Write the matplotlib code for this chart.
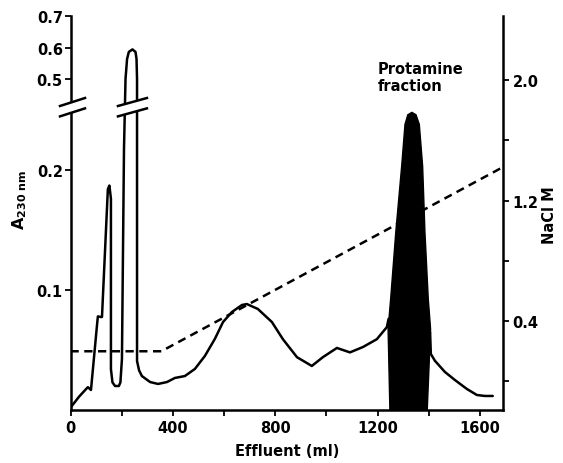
import numpy as np
import matplotlib
matplotlib.use("Agg")
import matplotlib.pyplot as plt
from matplotlib.patches import Polygon
from matplotlib.lines import Line2D
from matplotlib.transforms import IdentityTransform
from matplotlib.ticker import NullLocator, FixedLocator

# ---------------- data ----------------
# absorbance trace before the protamine peak
trace1_ml = [0, 2, 33, 61, 68, 80, 104, 107, 118, 123, 146, 152, 158, 158, 164, 174,
             189, 195, 201, 209, 215, 221, 228, 242, 254, 258, 260, 260, 260, 268,
             279, 311, 342, 377, 408, 447, 486, 525, 564, 596, 631, 670, 689, 732,
             787, 830, 885, 943, 986, 1041, 1092, 1143, 1197, 1236, 1243]
trace1_a = [0.0, 0.0025, 0.011, 0.0175, 0.019, 0.0167, 0.0717, 0.078, 0.0775, 0.0775,
            0.184, 0.187, 0.176, 0.034, 0.023, 0.02, 0.02, 0.023, 0.0425, 0.2175, 0.5,
            0.5635, 0.586, 0.594, 0.586, 0.5635, 0.5, 0.2175, 0.0408, 0.033, 0.0283,
            0.0233, 0.0217, 0.0233, 0.0267, 0.0283, 0.0342, 0.045, 0.0592, 0.0733,
            0.0817, 0.0875, 0.0883, 0.0842, 0.0733, 0.059, 0.044, 0.0367, 0.044,
            0.0517, 0.048, 0.0525, 0.059, 0.069, 0.076]
# absorbance trace after the protamine peak
trace2_ml = [1405, 1408, 1424, 1463, 1502, 1549, 1588, 1619, 1650]
trace2_a = [0.065, 0.0467, 0.041, 0.0317, 0.025, 0.0175, 0.0125, 0.0117, 0.0117]
# filled protamine fraction
peak_ml = [1248, 1241, 1251, 1271, 1294, 1307, 1318, 1334, 1350, 1363, 1376, 1385,
           1398, 1407, 1394]
peak_a = [0.0, 0.0675, 0.0925, 0.148, 0.203, 0.238, 0.246, 0.248, 0.246, 0.238,
          0.203, 0.148, 0.0925, 0.0675, 0.0]
# NaCl gradient
nacl_ml = [0, 355, 1690]
nacl_M = [0.2, 0.2, 1.423]

x_ticks = [0, 400, 800, 1200, 1600]
x_minor = [200, 600, 1000, 1400]
a_ticks = [0.1, 0.2, 0.5, 0.6, 0.7]
a_labels = ["0.1", "0.2", "0.5", "0.6", "0.7"]
n_ticks = [0.4, 1.2, 2.0]
n_labels = ["0.4", "1.2", "2.0"]
n_minor = [0.0, 0.8, 1.6]

# broken absorbance axis
BRK_LO, BRK_HI = 0.248, 0.427
A_KN = np.array([-1.0, BRK_LO, BRK_HI, 2.0])
U_KN = np.array([-1.0, BRK_LO, 0.25664, 0.66955])


def fwd(a):
    return np.interp(a, A_KN, U_KN)


def inv(u):
    return np.interp(u, U_KN, A_KN)


plt.rcParams["font.family"] = ["DejaVu Sans"]
FS = 10.5
LW = 1.8

fig = plt.figure(figsize=(5.63, 4.64), dpi=100)
W, H = 563, 464
ax = fig.add_axes([70.5 / W, 53 / H, (503 - 70.5) / W, (411 - 17) / H])
ax.set_yscale("function", functions=(fwd, inv))
ax.set_xlim(0, 1690)
ax.set_ylim(0, 0.7)

ax2 = ax.twinx()
ax2.set_ylim(-0.19, 2.426)

# traces
ax.plot(trace1_ml, trace1_a, color="black", lw=LW, solid_joinstyle="round",
        solid_capstyle="round", zorder=3)
ax.plot(trace2_ml, trace2_a, color="black", lw=LW, solid_joinstyle="round",
        solid_capstyle="round", zorder=3)
ax.fill(peak_ml, peak_a, color="black", lw=1, zorder=4)
ax2.plot(nacl_ml, nacl_M, color="black", lw=1.8, dashes=(3.3, 2.2), zorder=2)

# axes styling
for s in ["top", "right"]:
    ax.spines[s].set_visible(False)
for s in ["top", "left", "bottom"]:
    ax2.spines[s].set_visible(False)
for s in ["left", "bottom"]:
    ax.spines[s].set_linewidth(LW)
ax2.spines["right"].set_linewidth(LW)

ax.xaxis.set_major_locator(FixedLocator(x_ticks))
ax.xaxis.set_minor_locator(FixedLocator(x_minor))
ax.set_xticklabels([str(v) for v in x_ticks], fontsize=FS, fontweight="bold")
ax.yaxis.set_major_locator(FixedLocator(a_ticks))
ax.yaxis.set_minor_locator(NullLocator())
ax.set_yticklabels(a_labels, fontsize=FS, fontweight="bold")
ax2.yaxis.set_major_locator(FixedLocator(n_ticks))
ax2.yaxis.set_minor_locator(FixedLocator(n_minor))
ax2.set_yticklabels(n_labels, fontsize=FS, fontweight="bold")

ax.tick_params(axis="x", which="both", direction="out", length=4, width=1.3, pad=3)
ax.tick_params(axis="y", which="both", direction="out", length=4, width=1.3, pad=1.5)
ax2.tick_params(axis="y", which="both", direction="out", length=4, width=1.3, pad=3)

# labels
fig.text(287 / W, 1 - 452 / H, "Effluent (ml)", ha="center", va="center",
         fontsize=FS, fontweight="bold")
fig.text(20 / W, 1 - 200 / H, r"A$_{\mathbf{230\ nm}}$", ha="center", va="center",
         rotation=90, fontsize=FS + 1, fontweight="bold")
fig.text(549 / W, 1 - 215 / H, "NaCl M", ha="center", va="center", rotation=90,
         fontsize=FS, fontweight="bold")
ax.text(1201, 0.557, "Protamine\nfraction", ha="left", va="top", fontsize=FS,
        fontweight="bold", linespacing=1.2)

# break marks
fig.canvas.draw()
ident = IdentityTransform()
peak_x = trace1_ml[int(np.argmax(trace1_a))]


def draw_break(cx, half, rise=4.0):
    y_lo = ax.transData.transform((0, BRK_LO))[1]
    y_hi = ax.transData.transform((0, BRK_HI))[1]
    poly = Polygon([(cx - half, y_lo - rise), (cx + half, y_lo + rise),
                    (cx + half, y_hi + rise), (cx - half, y_hi - rise)],
                   closed=True, facecolor="white", edgecolor="none",
                   transform=ident, zorder=10)
    fig.add_artist(poly)
    for y in (y_lo, y_hi):
        fig.add_artist(Line2D([cx - half, cx + half], [y - rise, y + rise],
                              color="black", lw=LW, transform=ident, zorder=11))


x_axis_disp = ax.transAxes.transform((0, 0))[0]
draw_break(x_axis_disp + 2, 12.5)
draw_break(ax.transData.transform((peak_x, 0))[0], 14.5)

fig.savefig("out.png", dpi=100)
